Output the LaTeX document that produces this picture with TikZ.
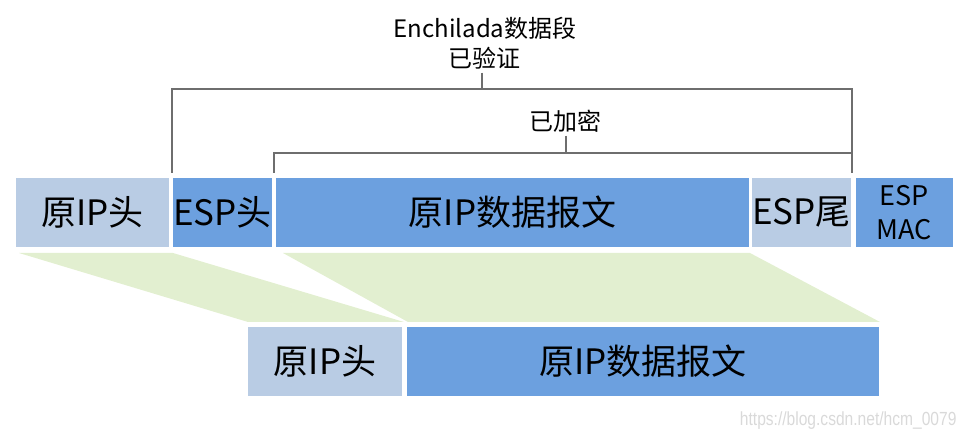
\documentclass[tikz,border=0pt]{standalone}
\usepackage{fontspec}
\setmainfont{Noto Sans CJK SC}
\newfontfamily\urlfont[FakeStretch=0.82]{Liberation Sans}
\usetikzlibrary{positioning}

\definecolor{hdrgray}{HTML}{B9CCE4}
\definecolor{espblue}{HTML}{6CA0DF}
\definecolor{copygreen}{HTML}{E2EFD0}
\definecolor{brackgray}{HTML}{6E6E6E}
\definecolor{wmgray}{HTML}{D9D9D9}

\tikzset{
    field/.style={fill=#1, inner sep=0pt, minimum height=69pt,
        font=\fontsize{35}{40}\selectfont},
    caption/.style={font=\fontsize{24}{28}\selectfont},
    bracket/.style={draw=brackgray, line width=1.4pt},
}

\begin{document}
\begin{tikzpicture}[x=1pt, y=-1pt]
    \useasboundingbox (0,0) rectangle (970,438);

    % Copy bands
    \fill[copygreen] (19,253) -- (173,253) -- (404,322) -- (248,322) -- cycle;
    \fill[copygreen] (283,253) -- (750,253) -- (880,322) -- (408,322) -- cycle;

    % ESP packet
    \node[field=hdrgray, minimum width=153pt] (hdr) at (92.5,212.5) {原IP头};
    \node[field=espblue, minimum width=97pt] (esphdr) at (222.5,212.5) {ESP头};
    \node[field=espblue, minimum width=473pt] (data) at (512.5,212.5) {原IP数据报文};
    \node[field=hdrgray, minimum width=95pt] (esptrl) at (801.5,212.5) {ESP尾};
    \node[field=espblue, minimum width=97pt, align=center,
        font=\fontsize{27}{34}\selectfont] (mac) at (904.5,212.5) {ESP\\MAC};

    % Original packet
    \node[field=hdrgray, minimum width=154pt] (hdr2) at (325,361.5) {原IP头};
    \node[field=espblue, minimum width=472pt] (data2) at (643,361.5) {原IP数据报文};

    % Authenticated span
    \node[caption] (seg) at (485,28) {Enchilada数据段};
    \node[caption] (auth) at (484,58) {已验证};
    \coordinate (authL) at (172,173);
    \coordinate (authR) at (852,173);
    \coordinate (authTop) at (482,89);
    \draw[bracket] (authL) |- (authTop) -| (authR);
    \draw[bracket] (auth.south -| authTop) -- (authTop);

    % Encrypted span
    \node[caption] (enc) at (565,121) {已加密};
    \coordinate (encL) at (274,173);
    \coordinate (encR) at (852,153);
    \coordinate (encTop) at (566,153);
    \draw[bracket] (encL) |- (encTop) -- (encR);
    \draw[bracket] (enc.south -| encTop) -- (encTop);

    \node[font=\urlfont\fontsize{19}{22}\selectfont, text=wmgray,
        anchor=base east] (mark) at (960,425) {https://blog.csdn.net/hcm\_0079};
\end{tikzpicture}
\end{document}
